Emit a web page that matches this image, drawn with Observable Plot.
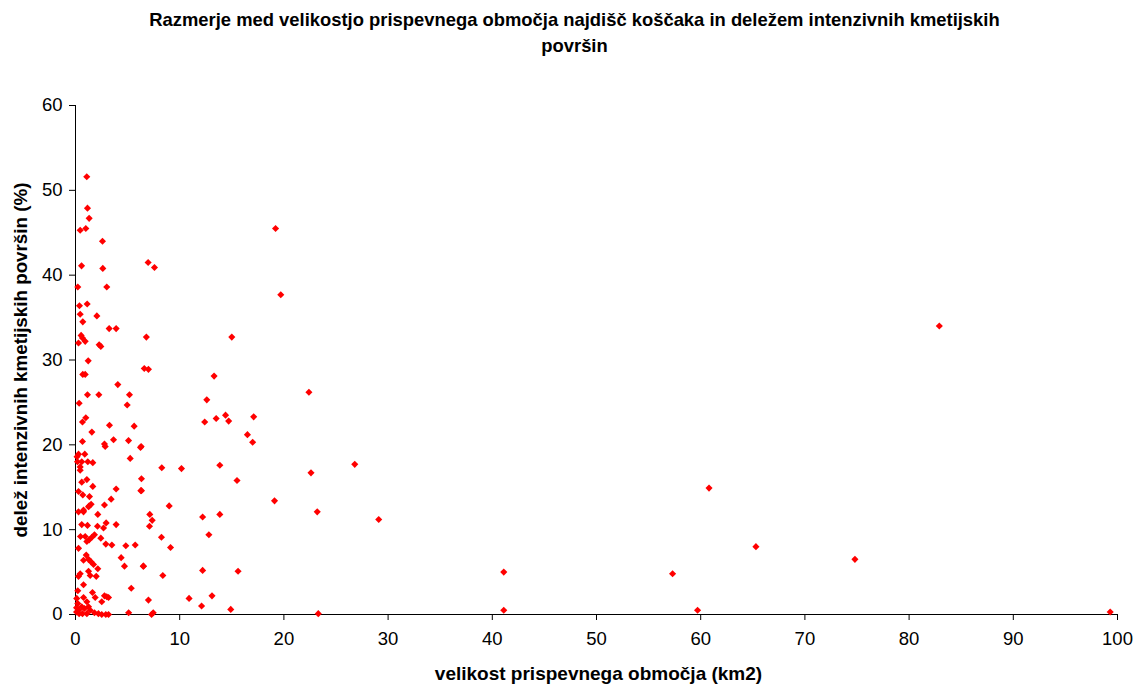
<!DOCTYPE html>
<html>
<head>
<meta charset="utf-8">
<script src="https://cdn.jsdelivr.net/npm/d3@7"></script>
<script src="https://cdn.jsdelivr.net/npm/@observablehq/plot@0.6"></script>
<style>
  html, body { margin: 0; padding: 0; background: #fff; }
  body { width: 1135px; height: 686px; overflow: hidden; font-family: "Liberation Sans", Arial, sans-serif; }
  #title { height: 65px; box-sizing: border-box; padding-top: 7px; padding-left: 14px; text-align: center; font-weight: bold; font-size: 18.4px; line-height: 26px; color: #000; }
</style>
</head>
<body>
<div id="title">Razmerje med velikostjo prispevnega območja najdišč koščaka in deležem intenzivnih kmetijskih<br>površin</div>
<div id="chart"></div>
<script>
const title = "Razmerje med velikostjo prispevnega območja najdišč koščaka in deležem intenzivnih kmetijskih površin";
const xLabel = "velikost prispevnega območja (km2)";
const yLabel = "delež intenzivnih kmetijskih površin (%)";
const xTicks = [0, 10, 20, 30, 40, 50, 60, 70, 80, 90, 100];
const yTicks = [0, 10, 20, 30, 40, 50, 60];

// catchment area (km2)
const area = [
  99.3, 82.9, 74.8, 65.3, 60.8, 59.7, 57.3, 41.1, 41.1, 29.1, 26.8, 23.3, 23.2, 22.6, 22.4, 19.7, 19.2, 19.1,
  17.1, 17.0, 16.5, 15.6, 15.5, 15.0, 14.9, 14.7, 14.4, 13.85, 13.85, 13.5, 13.3, 13.1, 12.8, 12.6, 12.4, 12.2, 12.2, 12.1, 10.9, 10.17,
  9.12, 8.99, 8.38, 8.28, 8.25, 7.58, 7.46, 7.3, 7.36, 7.13, 7.1, 7.0, 6.97, 6.8, 6.6, 7.0, 6.53, 6.5, 6.33, 6.33, 6.3, 6.27, 6.24, 5.73,
  5.63, 5.35, 5.25, 5.18, 5.09, 4.96, 5.1, 4.83, 4.7, 4.38, 4.06, 3.9, 3.9, 3.9, 3.65, 3.49, 3.42, 3.26, 3.23, 3.17, 3.17, 3.0, 3.0,
  2.94, 2.91, 2.91, 2.85, 2.78, 2.78, 2.78, 2.69, 2.62, 2.59, 2.52, 2.52, 2.43, 2.43, 2.27, 2.24, 2.2, 2.14, 2.14, 2.11, 2.05, 1.99,
  1.89, 1.82, 1.82, 1.73, 1.66, 1.66, 1.63, 1.57, 1.57, 1.5, 1.5, 1.41, 1.41, 1.34, 1.31, 1.31, 1.31, 1.25, 1.25, 1.25, 1.25, 1.22,
  1.18, 1.15, 1.15, 1.15, 1.12, 1.09, 1.09, 1.09, 1.09, 1.08, 1.03, 0.99, 0.99, 0.93, 0.93, 0.93, 0.89, 0.86, 0.77, 0.77, 0.77, 0.77,
  0.77, 0.70, 0.70, 0.70, 0.67, 0.67, 0.67, 0.67, 0.6, 0.6, 0.6, 0.6, 0.58, 0.54, 0.48, 0.45, 0.45, 0.45, 0.45, 0.45, 0.38, 0.35,
  0.35, 0.29, 0.29, 0.29, 0.29, 0.29, 0.29, 0.29, 0.22, 0.22, 0.22, 0.19, 0.15, 0.12, 0.1, 0.1
];
// share of intensive agricultural land (%)
const share = [
  0.3, 34.0, 6.5, 8.0, 14.9, 0.5, 4.8, 5.0, 0.5, 11.2, 17.7, 0.1, 12.1, 16.7, 26.2, 37.7, 45.5, 13.4,
  23.3, 20.3, 21.2, 5.1, 15.8, 32.7, 0.6, 22.8, 23.5, 17.6, 11.8, 23.1, 28.1, 2.2, 9.4, 25.3, 22.7, 11.5, 5.2, 1.0, 1.9, 17.2,
  7.9, 12.8, 4.6, 17.3, 9.1, 40.9, 0.2, 0.0, 11.1, 11.8, 10.4, 1.7, 41.5, 32.7, 29.0, 28.9, 5.7, 5.7, 16.0, 14.6, 19.8, 14.6, 19.7, 8.2,
  22.2, 3.1, 18.4, 25.9, 20.5, 24.7, 0.2, 8.1, 5.7, 6.7, 27.1, 33.7, 14.8, 10.6, 20.6, 8.2, 13.6, 22.3, 33.7, 2.0, 0.0, 38.6, 2.1,
  10.8, 8.3, 0.0, 19.8, 20.1, 12.9, 2.2, 10.2, 40.8, 44.0, 1.5, 0.0, 31.6, 9.0, 31.8, 25.9, 0.1, 11.8, 5.4, 10.4, 35.2, 4.5,
  2.0, 9.4, 0.2, 5.9, 17.9, 15.1, 2.6, 21.5, 9.1, 13.0, 6.2, 4.6, 0.5, 13.9, 46.7, 12.8, 8.8, 12.7, 6.5, 5.1, 0.9, 29.9,
  18.0, 47.9, 25.9, 10.5, 36.6, 15.9, 8.6, 1.5, 0.1, 51.6, 7.0, 45.5, 23.2, 32.2, 28.3, 9.2, 18.9, 0.7, 12.1, 12.3, 6.4, 3.5,
  2.0, 34.5, 28.3, 14.1, 22.7, 20.4, 32.6, 0.1, 18.0, 15.6, 10.6, 0.9, 41.1, 32.9, 9.2, 45.3, 35.4, 17.4, 17.0, 4.8, 36.4, 24.9,
  0.1, 32.0, 18.9, 14.5, 12.1, 7.8, 4.5, 0.5, 38.6, 2.8, 1.3, 18.0, 18.6, 1.9, 0.8, 0.3
];

const data = area.map((a, i) => ({area: a, share: share[i]}));

const chart = Plot.plot({
  width: 1135,
  height: 621,
  marginTop: 40,
  marginLeft: 75,
  marginRight: 18,
  marginBottom: 72,
  style: {fontFamily: "'Liberation Sans', Arial, sans-serif", fontSize: "18px", color: "#000", background: "#fff", overflow: "visible"},
  x: {domain: [0, 100], ticks: xTicks, label: null},
  y: {domain: [0, 60], ticks: yTicks, label: null},
  marks: [
    Plot.axisX({ticks: xTicks, tickSize: 6, tickPadding: 11, fontSize: 18.5, label: null, stroke: "#000"}),
    Plot.axisY({ticks: yTicks, tickSize: 6, tickPadding: 7, fontSize: 18.5, label: null, stroke: "#000"}),
    Plot.ruleY([0], {stroke: "#000", strokeWidth: 1}),
    Plot.ruleX([0], {stroke: "#000", strokeWidth: 1}),
    Plot.dot(data, {x: "area", y: "share", symbol: "diamond2", r: 3.2, fill: "#ff0000", stroke: "none"}),
    Plot.text([xLabel], {frameAnchor: "bottom", dy: 65, text: d => d, fontWeight: "bold", fontSize: 19, dx: 2}),
    Plot.text([yLabel], {frameAnchor: "left", dx: -55, rotate: -90, textAnchor: "middle", text: d => d, fontWeight: "bold", fontSize: 18.8})
  ]
});
document.getElementById("chart").appendChild(chart);
</script>
</body>
</html>
